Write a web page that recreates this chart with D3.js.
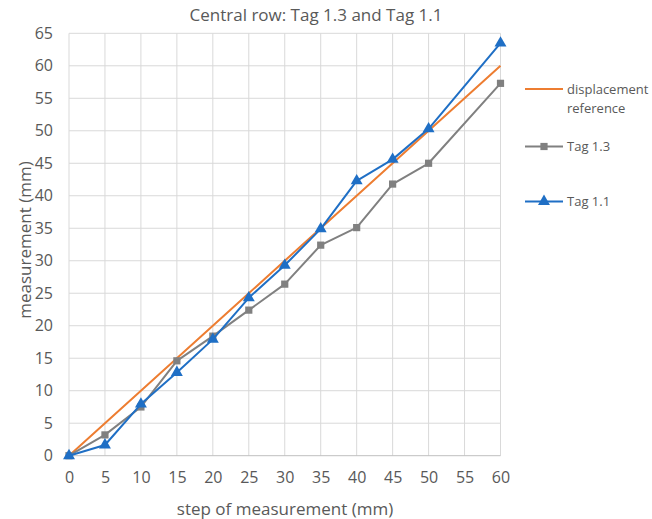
<!DOCTYPE html>
<html>
<head>
<meta charset="utf-8">
<script src="https://cdn.jsdelivr.net/npm/d3@7"></script>
<style>
  html, body { margin: 0; padding: 0; background: #fff; }
  svg { display: block; font-family: "Open Sans", "Liberation Sans", sans-serif; }
</style>
</head>
<body>
<svg id="chart" width="652" height="519"></svg>
<script>
// Measurement steps (mm) and readings for each series
const steps = [0, 5, 10, 15, 20, 25, 30, 35, 40, 45, 50, 60];
const reference = [0, 5, 10, 15, 20, 25, 30, 35, 40, 45, 50, 60];
const tag13 = [0, 3.2, 7.5, 14.6, 18.4, 22.4, 26.4, 32.4, 35.1, 41.8, 45.0, 57.3];
const tag11 = [0, 1.65, 7.95, 12.8, 17.9, 24.3, 29.3, 34.9, 42.3, 45.6, 50.3, 63.5];
const xTicks = [0, 5, 10, 15, 20, 25, 30, 35, 40, 45, 50, 55, 60];
const yTicks = [0, 5, 10, 15, 20, 25, 30, 35, 40, 45, 50, 55, 60, 65];
const seriesNames = ["displacement reference", "Tag 1.3", "Tag 1.1"];
const titleText = "Central row: Tag 1.3 and Tag 1.1";
const xTitle = "step of measurement (mm)";
const yTitle = "measurement (mm)";

const svg = d3.select("#chart");
const plot = { left: 69, right: 500.5, top: 33.3, bottom: 455.7 };

const x = d3.scaleLinear().domain([0, 60]).range([plot.left, plot.right]);
const y = d3.scaleLinear().domain([0, 65]).range([plot.bottom, plot.top]);

const textColor = "#595959";
const gridColor = "#d9d9d9";

// Gridlines
svg.append("g").selectAll("line").data(xTicks).join("line")
  .attr("x1", d => x(d)).attr("x2", d => x(d))
  .attr("y1", plot.top).attr("y2", plot.bottom)
  .attr("stroke", gridColor).attr("stroke-width", 1);
svg.append("g").selectAll("line").data(yTicks.filter(d => d > 0)).join("line")
  .attr("x1", plot.left).attr("x2", plot.right)
  .attr("y1", d => y(d)).attr("y2", d => y(d))
  .attr("stroke", gridColor).attr("stroke-width", 1);

// Horizontal axis line
svg.append("line")
  .attr("x1", plot.left).attr("x2", plot.right)
  .attr("y1", y(0)).attr("y2", y(0))
  .attr("stroke", "#bfbfbf").attr("stroke-width", 1);

// Axes (labels only)
const xAxis = svg.append("g")
  .attr("transform", `translate(0,${plot.bottom})`)
  .call(d3.axisBottom(x).tickValues(xTicks).tickSize(0).tickPadding(16));
xAxis.select(".domain").remove();
xAxis.selectAll("text").attr("fill", textColor).style("font-size", "16px")
  .style("font-family", "'Open Sans', sans-serif");

const yAxis = svg.append("g")
  .attr("transform", `translate(${plot.left},0)`)
  .call(d3.axisLeft(y).tickValues(yTicks).tickSize(0).tickPadding(16));
yAxis.select(".domain").remove();
yAxis.selectAll("text").attr("fill", textColor).style("font-size", "16px")
  .style("font-family", "'Open Sans', sans-serif");

// Titles
svg.append("text").attr("x", 316).attr("y", 21).attr("text-anchor", "middle")
  .attr("fill", textColor).style("font-size", "17px").text(titleText);
svg.append("text").attr("x", 285).attr("y", 515).attr("text-anchor", "middle")
  .attr("fill", textColor).style("font-size", "17px").text(xTitle);
svg.append("text").attr("transform", `translate(31,240) rotate(-90)`)
  .attr("text-anchor", "middle")
  .attr("fill", textColor).style("font-size", "17px").text(yTitle);

// Series
const series = [
  { name: seriesNames[0], values: reference, color: "#ED7D31", marker: null },
  { name: seriesNames[1], values: tag13, color: "#808080", marker: d3.symbolSquare },
  { name: seriesNames[2], values: tag11, color: "#1F6FC5", marker: d3.symbolTriangle }
];

const line = d3.line().x(d => x(d[0])).y(d => y(d[1]));

series.forEach(s => {
  const pts = steps.map((st, i) => [st, s.values[i]]);
  svg.append("path").datum(pts)
    .attr("d", line).attr("fill", "none")
    .attr("stroke", s.color).attr("stroke-width", 2)
    .attr("stroke-linejoin", "round");
  if (s.marker) {
    const size = s.marker === d3.symbolSquare ? 52 : 62;
    svg.append("g").selectAll("path").data(pts).join("path")
      .attr("transform", d => `translate(${x(d[0])},${y(d[1])})`)
      .attr("d", d3.symbol().type(s.marker).size(size))
      .attr("fill", s.color);
  }
});

// Legend
const legend = svg.append("g");
const legendRows = [
  { s: series[0], y: 89 },
  { s: series[1], y: 146.5 },
  { s: series[2], y: 201.5 }
];
legendRows.forEach(r => {
  legend.append("line")
    .attr("x1", 525).attr("x2", 563)
    .attr("y1", r.y).attr("y2", r.y)
    .attr("stroke", r.s.color).attr("stroke-width", 2);
  if (r.s.marker) {
    const size = r.s.marker === d3.symbolSquare ? 52 : 62;
    legend.append("path")
      .attr("transform", `translate(544,${r.y})`)
      .attr("d", d3.symbol().type(r.s.marker).size(size))
      .attr("fill", r.s.color);
  }
});
legend.append("text").attr("x", 567).attr("y", 93.5)
  .attr("fill", textColor).style("font-size", "13px").text("displacement");
legend.append("text").attr("x", 567).attr("y", 112.5)
  .attr("fill", textColor).style("font-size", "13px").text("reference");
legend.append("text").attr("x", 567).attr("y", 151)
  .attr("fill", textColor).style("font-size", "13px").text(seriesNames[1]);
legend.append("text").attr("x", 567).attr("y", 206)
  .attr("fill", textColor).style("font-size", "13px").text(seriesNames[2]);
</script>
</body>
</html>
